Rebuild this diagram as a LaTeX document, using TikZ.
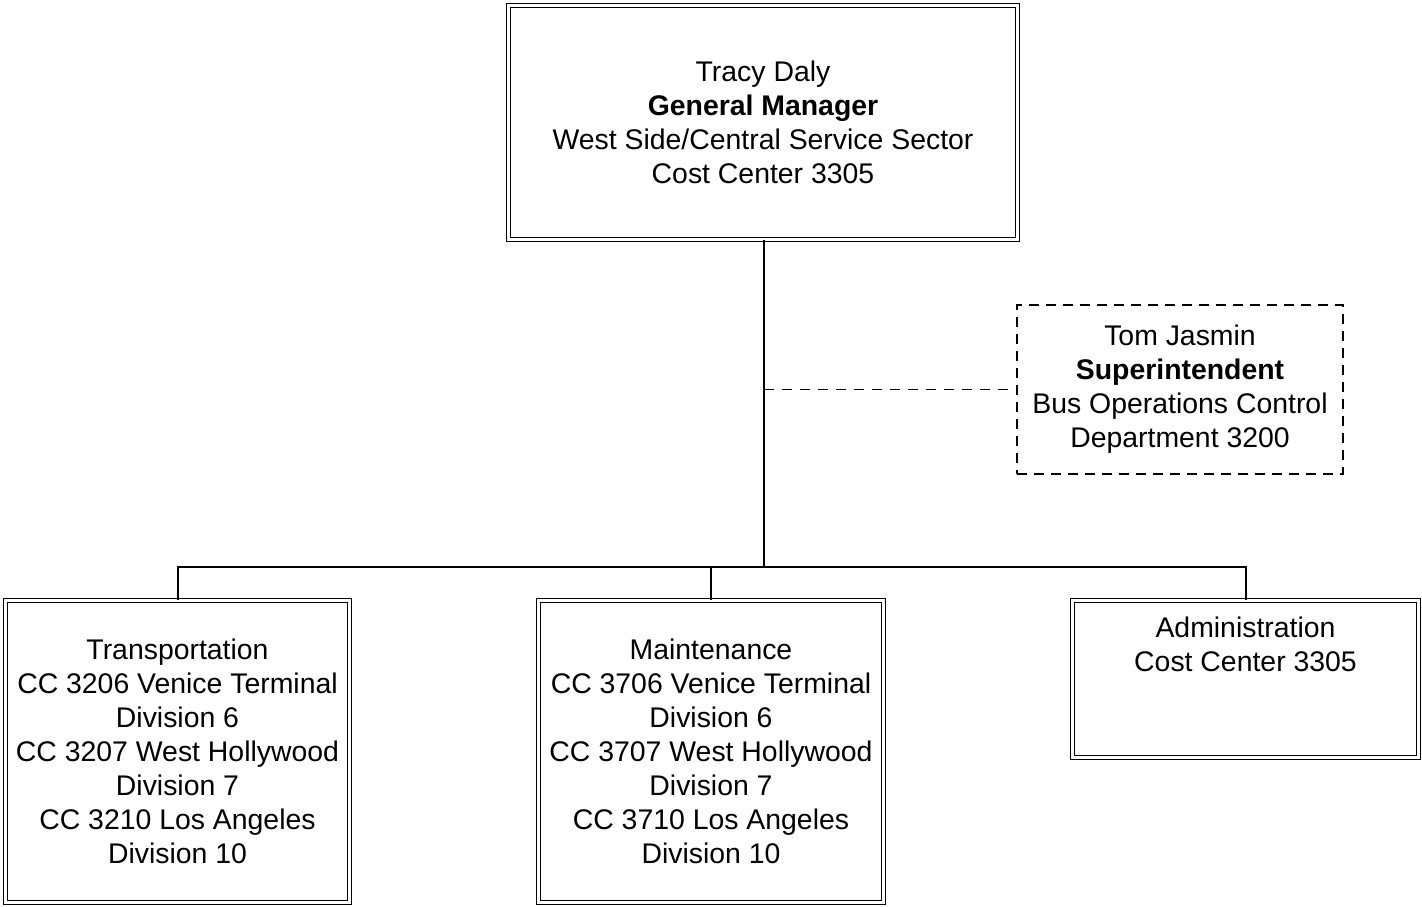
\documentclass[tikz,border=0pt]{standalone}
\usepackage{fontspec}
\setmainfont{Liberation Sans}
\begin{document}
\begin{tikzpicture}[x=0.5pt,y=-0.5pt,
  every node/.style={font=\fontsize{14.2}{17}\selectfont, align=center, inner sep=0pt},
  dbox/.style={draw, double, double distance=1.3pt, line width=0.7pt},
  dashbox/.style={draw, dashed, dash pattern=on 5pt off 3.5pt, line width=0.8pt},
  conn/.style={line width=1pt},
  dconn/.style={line width=0.8pt, dash pattern=on 5pt off 4pt}]
\useasboundingbox (0,0) rectangle (1422,906);
\node[dbox, minimum width=254.5pt, minimum height=117pt] (top) at (763,122.5)
  {Tracy Daly\\\textbf{General Manager}\\West Side/Central Service Sector\\Cost Center 3305};
\node[dashbox, minimum width=163pt, minimum height=84.5pt] (sup) at (1180,389.5)
  {Tom Jasmin\\\textbf{Superintendent}\\Bus Operations Control\\Department 3200};
\node[dbox, minimum width=172pt, minimum height=151pt] (tl) at (177.5,751.5)
  {Transportation\\CC 3206 Venice Terminal\\Division 6\\CC 3207 West Hollywood\\Division 7\\CC 3210 Los Angeles\\Division 10};
\node[dbox, minimum width=172.5pt, minimum height=151pt] (tm) at (711,751.5)
  {Maintenance\\CC 3706 Venice Terminal\\Division 6\\CC 3707 West Hollywood\\Division 7\\CC 3710 Los Angeles\\Division 10};
\node[dbox, minimum width=173pt, minimum height=78.5pt] (tr) at (1245.5,679)
  {Administration\\Cost Center 3305\\\strut\\[-4pt]\strut};
\coordinate (j) at (764,567);
\draw[conn] (top.south -| j) -- (j);
\draw[conn] (tl.north) |- (j) -| (tr.north);
\draw[conn] (tm.north) -- (tm.north |- j);
\draw[dconn] (j |- sup.west) -- (sup.west);
\end{tikzpicture}
\end{document}
